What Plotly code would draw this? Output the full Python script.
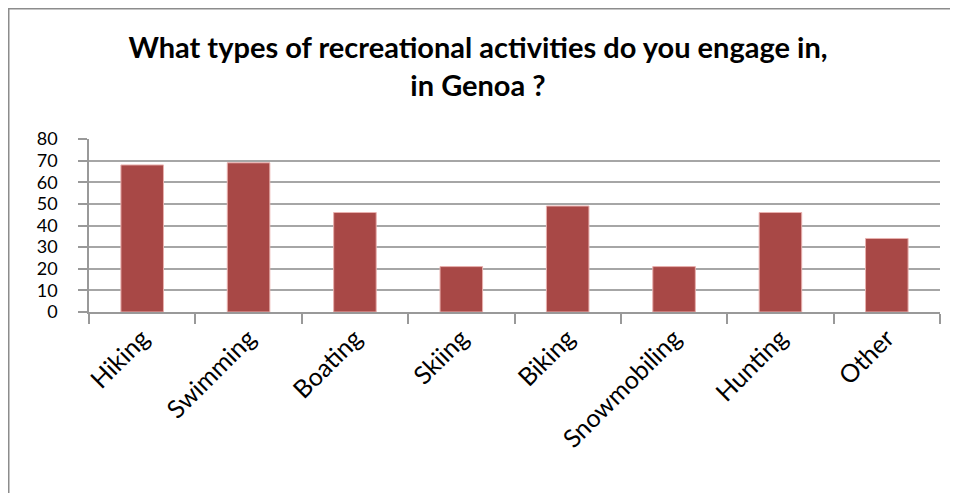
import plotly.graph_objects as go

categories = ["Hiking", "Swimming", "Boating", "Skiing", "Biking", "Snowmobiling", "Hunting", "Other"]
values = [68, 69, 46, 21, 49, 21, 46, 34]
y_ticks = [0, 10, 20, 30, 40, 50, 60, 70, 80]

FONT = "Lato, Carlito, Calibri, sans-serif"
# page body has an 8px margin, so the figure starts at (8, 8) in the window
W, H = 950, 485
L, R, T, B = 81, 18, 131, 181

fig = go.Figure(go.Bar(
    x=categories, y=values,
    marker=dict(color="#A84846", line=dict(color="#E8B0AE", width=1)),
))

fig.update_layout(
    width=W, height=H,
    margin=dict(l=L, r=R, t=T, b=B, autoexpand=False),
    paper_bgcolor="white", plot_bgcolor="white",
    bargap=0.6,
    showlegend=False,
    font=dict(family=FONT, color="black"),
    title=dict(
        text="<b>What types of recreational activities do you engage in,<br>in Genoa ?</b>",
        x=(478 - 8) / W, xanchor="center", xref="container",
        y=1 - 50 / H, yanchor="top",
        font=dict(size=29, family=FONT, color="black"),
    ),
    xaxis=dict(
        type="category",
        automargin=False,
        showgrid=False,
        showline=True, linecolor="#999999", linewidth=1.5,
        ticks="outside", tickson="boundaries", ticklen=10, tickcolor="#999999", tickwidth=1.5,
        tickangle=-45,
        tickfont=dict(size=25, family=FONT),
        fixedrange=True,
    ),
    yaxis=dict(
        automargin=False,
        range=[0, 80],
        tickvals=y_ticks,
        showgrid=True, gridcolor="#a6a6a6", gridwidth=1.5,
        showline=True, linecolor="#999999", linewidth=1.5,
        ticks="outside", ticklen=9, tickcolor="#999999", tickwidth=1.5,
        ticklabelstandoff=17,
        tickfont=dict(size=18, family=FONT),
        zeroline=False,
    ),
    shapes=[
        dict(type="line", xref="paper", yref="paper",
             x0=-L / (W - L - R), x1=-L / (W - L - R),
             y0=-B / (H - T - B), y1=1 + T / (H - T - B),
             line=dict(color="#8c8c8c", width=3)),
        dict(type="line", xref="paper", yref="paper",
             x0=-L / (W - L - R), x1=1 + R / (W - L - R),
             y0=1 + T / (H - T - B), y1=1 + T / (H - T - B),
             line=dict(color="#8c8c8c", width=3)),
    ],
)

fig.write_html("out.html")
